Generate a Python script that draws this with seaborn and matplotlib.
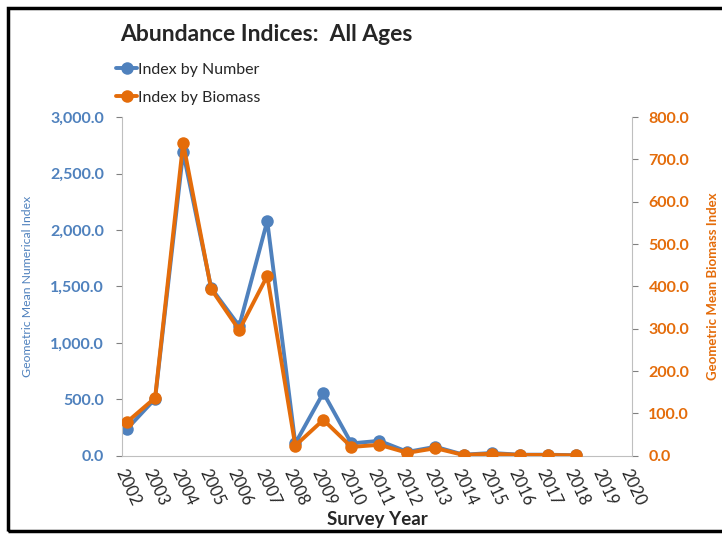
import pandas as pd
import matplotlib.pyplot as plt
import seaborn as sns
from matplotlib.lines import Line2D
from matplotlib.patches import Rectangle
from matplotlib.ticker import FuncFormatter

# Data
years = list(range(2002, 2019))
index_by_number = [239, 505, 2690, 1487, 1150, 2080, 110, 558, 110, 133,
                   35, 80, 10, 25, 10, 10, 5]
index_by_biomass = [80, 137, 739, 394, 297, 425, 24, 85, 21, 26,
                    7, 18, 2, 5, 2, 2, 1]
x_ticks = list(range(2002, 2021))

df = pd.DataFrame({"Survey Year": years,
                   "Index by Number": index_by_number,
                   "Index by Biomass": index_by_biomass})

blue = "#4F81BD"
orange = "#E46C0A"

sns.set_style("white")
plt.rcParams["font.family"] = ["Lato", "DejaVu Sans"]

fig = plt.figure(figsize=(7.22, 5.35), dpi=100)
ax = fig.add_axes([0.169, 0.148, 0.706, 0.633])
ax2 = ax.twinx()

sns.lineplot(data=df, x="Survey Year", y="Index by Number", ax=ax,
             color=blue, marker="o", markersize=9, linewidth=2.8,
             markeredgewidth=0)
sns.lineplot(data=df, x="Survey Year", y="Index by Biomass", ax=ax2,
             color=orange, marker="o", markersize=9, linewidth=2.8,
             markeredgewidth=0)

ax.set_xlim(2002 - 0.18, 2020)
ax.set_ylim(0, 3000)
ax2.set_ylim(0, 800)
ax.set_yticks(range(0, 3001, 500))
ax2.set_yticks(range(0, 801, 100))
ax.set_xticks(x_ticks)
ax.set_xticklabels([str(y) for y in x_ticks], rotation=-65, ha="left",
                   rotation_mode="anchor", fontsize=12)

fmt = FuncFormatter(lambda v, p: f"{v:,.1f}")
ax.yaxis.set_major_formatter(fmt)
ax2.yaxis.set_major_formatter(fmt)

for lab in ax.get_yticklabels():
    lab.set_color(blue)
    lab.set_fontweight("bold")
    lab.set_fontsize(11.5)
for lab in ax2.get_yticklabels():
    lab.set_color(orange)
    lab.set_fontweight("bold")
    lab.set_fontsize(11.5)

grey = "#BFBFBF"
for a in (ax, ax2):
    a.spines["top"].set_visible(False)
    for s in ("left", "right", "bottom"):
        a.spines[s].set_color(grey)
    a.tick_params(axis="both", length=4, color="#808080", direction="out")
ax.spines["right"].set_visible(False)
ax2.spines["left"].set_visible(False)
ax2.spines["bottom"].set_visible(False)
ax.tick_params(axis="y", pad=9)
ax2.tick_params(axis="y", pad=8)

ax.set_xlabel("Survey Year", fontsize=13.5, fontweight="bold", labelpad=2)
ax.set_ylabel("Geometric Mean Numerical Index", fontsize=8.8, color=blue,
              labelpad=12)
ax2.set_ylabel("Geometric Mean Biomass Index", fontsize=9.5, color=orange,
               fontweight="bold", labelpad=13)

fig.text(0.166, 0.935, "Abundance Indices:  All Ages", fontsize=16.5,
         fontweight="bold", ha="left", va="center")

handles = [Line2D([], [], color=blue, marker="o", markersize=9, linewidth=2.8,
                  markeredgewidth=0),
           Line2D([], [], color=orange, marker="o", markersize=9, linewidth=2.8,
                  markeredgewidth=0)]
fig.legend(handles, ["Index by Number", "Index by Biomass"],
           loc="upper left", bbox_to_anchor=(0.152, 0.895), frameon=False,
           fontsize=11.5, handlelength=1.3, handletextpad=0.1, labelspacing=0.85,
           borderaxespad=0)

# outer frame of the chart area
fig.patches.append(Rectangle((0.011, 0.008), 1.2, 0.977, transform=fig.transFigure,
                             fill=False, edgecolor="black", linewidth=2.5))

fig.savefig("out.png", dpi=100)
plt.close(fig)
